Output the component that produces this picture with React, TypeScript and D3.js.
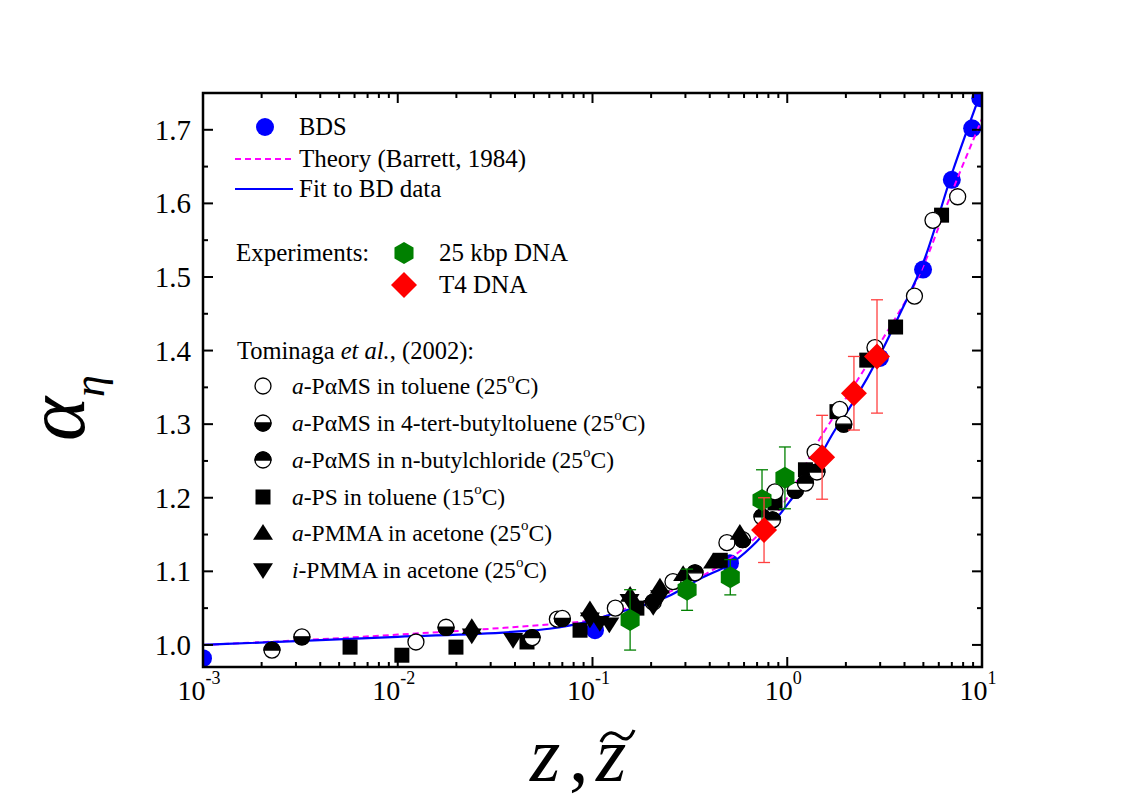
import React from 'react';
import * as d3 from 'd3';

const W = 1141, H = 800;
const L = 203, R = 982, T = 93, B = 667;

const xTickExps = [-3, -2, -1, 0, 1];
const yTicks = [1.0, 1.1, 1.2, 1.3, 1.4, 1.5, 1.6, 1.7];

// BDS (blue filled circles)
const bdsX = [0.001, 0.103, 0.508, 2.99, 4.98, 7.0, 8.9, 9.8];
const bdsY = [0.982, 1.02, 1.111, 1.39, 1.51, 1.632, 1.702, 1.743];

// Theory (Barrett, 1984)
const theoryX = [0.001, 0.003, 0.01, 0.03, 0.06, 0.1, 0.15, 0.2, 0.3, 0.5, 0.7, 1.0, 1.5, 2.0, 3.0, 5.0, 7.0, 10.0];
const theoryY = [1.0, 1.006, 1.014, 1.022, 1.028, 1.034, 1.05, 1.062, 1.082, 1.116, 1.148, 1.2, 1.284, 1.335, 1.41, 1.515, 1.615, 1.715];

// Fit to BD data
const fitX = [0.001, 0.01, 0.04, 0.06, 0.089, 0.123, 0.24, 0.357, 0.53, 0.7, 1.03, 1.36, 1.72, 2.18, 3.0, 3.79, 5.0, 7.1, 10.0];
const fitY = [1.0, 1.011, 1.018, 1.022, 1.03, 1.041, 1.065, 1.09, 1.113, 1.141, 1.195, 1.24, 1.288, 1.33, 1.395, 1.45, 1.52, 1.645, 1.755];

// 25 kbp DNA (green hexagons)
const dna25X = [0.156, 0.306, 0.51, 0.742, 0.973];
const dna25Y = [1.034, 1.075, 1.092, 1.197, 1.227];
const dna25Err = [0.041, 0.028, 0.024, 0.041, 0.042];

// T4 DNA (red diamonds)
const t4X = [0.76, 1.51, 2.2, 2.89];
const t4Y = [1.156, 1.255, 1.342, 1.392];
const t4Err = [0.044, 0.057, 0.05, 0.077];

// Tominaga et al. (2002)
const pamsTolX = [0.0124, 0.066, 0.131, 0.259, 0.49, 0.865, 1.39, 1.86, 2.82, 4.5, 5.6, 7.5];
const pamsTolY = [1.004, 1.035, 1.05, 1.086, 1.139, 1.208, 1.262, 1.32, 1.404, 1.474, 1.577, 1.609];

const pamsTbtX = [0.00322, 0.0177, 0.07, 0.59, 1.1, 1.95];
const pamsTbtY = [1.011, 1.024, 1.036, 1.143, 1.21, 1.3];

const pamsNbcX = [0.00226, 0.049, 0.205, 0.336, 0.742, 0.84, 1.24, 1.42];
const pamsNbcY = [0.993, 1.01, 1.058, 1.098, 1.174, 1.17, 1.22, 1.235];

const psX = [0.00569, 0.0105, 0.0199, 0.0461, 0.0863, 0.169, 0.453, 0.865, 1.24, 1.8, 2.56, 3.6, 6.2];
const psY = [0.997, 0.986, 0.997, 1.004, 1.02, 1.05, 1.115, 1.193, 1.238, 1.317, 1.387, 1.432, 1.584];

const apmmaX = [0.024, 0.097, 0.156, 0.222, 0.292, 0.416, 0.571];
const apmmaY = [1.024, 1.048, 1.068, 1.079, 1.096, 1.113, 1.152];

const ipmmaX = [0.024, 0.0391, 0.097, 0.109, 0.122, 0.155, 0.205, 0.222];
const ipmmaY = [1.013, 1.007, 1.035, 1.03, 1.028, 1.06, 1.052, 1.065];

const x = d3.scaleLog().domain([0.001, 10]).range([L, R]);
const y = d3.scaleLinear().domain([0.97, 1.75]).range([B, T]);

const FONT = '"Liberation Serif", "Times New Roman", serif';

const zip = (xs: number[], ys: number[]) => xs.map((v, i) => [v, ys[i]] as [number, number]);

const tri = (s: number, up: boolean) => {
  const h = s * 0.9;
  return up
    ? `M0,${-h} L${s},${h * 0.75} L${-s},${h * 0.75} Z`
    : `M0,${h} L${s},${-h * 0.75} L${-s},${-h * 0.75} Z`;
};
const hexPath = (r: number) => {
  const pts = d3.range(6).map(k => {
    const a = (-90 + 60 * k) * Math.PI / 180;
    return `${r * Math.cos(a)},${r * Math.sin(a)}`;
  });
  return 'M' + pts.join('L') + 'Z';
};
const diamondPath = (r: number) => `M0,${-r} L${r},0 L0,${r} L${-r},0 Z`;

type Kind = 'open' | 'tbt' | 'nbc' | 'square' | 'up' | 'down';

function Marker({ kind, cx, cy }: { kind: Kind; cx: number; cy: number }) {
  const r = 8;
  const t = `translate(${cx},${cy})`;
  if (kind === 'open') return <circle cx={cx} cy={cy} r={r} fill="#fff" stroke="#000" strokeWidth={1.3} />;
  if (kind === 'tbt' || kind === 'nbc') {
    const sweep = kind === 'tbt' ? 0 : 1;
    return (
      <g transform={t}>
        <circle r={r} fill="#fff" stroke="#000" strokeWidth={1.3} />
        <path d={`M${-r},0 A${r},${r} 0 0 ${sweep} ${r},0 Z`} fill="#000" stroke="#000" strokeWidth={1.3} />
      </g>
    );
  }
  if (kind === 'square') return <rect x={cx - 7.5} y={cy - 7.5} width={15} height={15} fill="#000" />;
  if (kind === 'up') return <path transform={t} d={tri(10, true)} fill="#000" />;
  return <path transform={t} d={tri(10, false)} fill="#000" />;
}

function Sup({ base, sup, x0, y0 }: { base: string; sup: string; x0: number; y0: number }) {
  return (
    <text x={x0} y={y0} fontFamily={FONT} fontSize={28} textAnchor="middle">
      {base}
      <tspan fontSize={18} dy={-16}>{sup}</tspan>
    </text>
  );
}

function LegendText({ x0, y0, pre, mid, tail }: { x0: number; y0: number; pre: string; mid: string; tail: string }) {
  return (
    <text x={x0} y={y0} fontFamily={FONT} fontSize={23.5}>
      <tspan fontStyle="italic">{pre}</tspan>
      {mid}
      <tspan fontSize={15} dy={-11}>o</tspan>
      <tspan dy={11}>{tail}</tspan>
    </text>
  );
}

export default function App() {
  const fitLine = d3.line<[number, number]>().x(d => x(d[0])).y(d => y(d[1])).curve(d3.curveMonotoneX);

  const majorX = xTickExps.map(e => Math.pow(10, e));
  const minorX: number[] = [];
  for (let e = -3; e < 1; e++) for (let m = 2; m <= 9; m++) minorX.push(m * Math.pow(10, e));
  const minorY = yTicks.map(v => Math.round((v + 0.05) * 100) / 100).filter(v => v < 1.75);

  const series: { kind: Kind; xs: number[]; ys: number[] }[] = [
    { kind: 'square', xs: psX, ys: psY },
    { kind: 'open', xs: pamsTolX, ys: pamsTolY },
    { kind: 'tbt', xs: pamsTbtX, ys: pamsTbtY },
    { kind: 'nbc', xs: pamsNbcX, ys: pamsNbcY },
    { kind: 'up', xs: apmmaX, ys: apmmaY },
    { kind: 'down', xs: ipmmaX, ys: ipmmaY },
  ];

  const legendRows: { kind: Kind; pre: string; mid: string; tail: string }[] = [
    { kind: 'open', pre: 'a', mid: '-PαMS in toluene (25', tail: 'C)' },
    { kind: 'tbt', pre: 'a', mid: '-PαMS in 4-tert-butyltoluene (25', tail: 'C)' },
    { kind: 'nbc', pre: 'a', mid: '-PαMS in n-butylchloride (25', tail: 'C)' },
    { kind: 'square', pre: 'a', mid: '-PS in toluene (15', tail: 'C)' },
    { kind: 'up', pre: 'a', mid: '-PMMA in acetone (25', tail: 'C)' },
    { kind: 'down', pre: 'i', mid: '-PMMA in acetone (25', tail: 'C)' },
  ];
  const rowY = [386, 423, 460, 497, 533, 570];

  return (
    <svg width={W} height={H} style={{ position: 'absolute', left: 0, top: 0, background: '#fff' }}>
      <defs>
        <clipPath id="plotclip">
          <rect x={L} y={T} width={R - L} height={B - T} />
        </clipPath>
      </defs>
      <rect width={W} height={H} fill="#fff" />

      <g clipPath="url(#plotclip)">
        {zip(bdsX, bdsY).map((d, i) => (
          <circle key={'b' + i} cx={x(d[0])} cy={y(d[1])} r={9} fill="#0000ff" />
        ))}
        <path d={fitLine(zip(theoryX, theoryY)) || ''} fill="none" stroke="#ff00ff" strokeWidth={2} strokeDasharray="6,4" />
        <path d={fitLine(zip(fitX, fitY)) || ''} fill="none" stroke="#0000ff" strokeWidth={2.2} />
        {series.map((s, si) =>
          zip(s.xs, s.ys).map((d, i) => <Marker key={si + '-' + i} kind={s.kind} cx={x(d[0])} cy={y(d[1])} />)
        )}
        {zip(dna25X, dna25Y).map((d, i) => {
          const cx = x(d[0]);
          const e = dna25Err[i];
          return (
            <g key={'g' + i}>
              <line x1={cx} x2={cx} y1={y(d[1] - e)} y2={y(d[1] + e)} stroke="#008000" strokeWidth={1.3} />
              <line x1={cx - 6} x2={cx + 6} y1={y(d[1] - e)} y2={y(d[1] - e)} stroke="#008000" strokeWidth={1.3} />
              <line x1={cx - 6} x2={cx + 6} y1={y(d[1] + e)} y2={y(d[1] + e)} stroke="#008000" strokeWidth={1.3} />
              <path transform={`translate(${cx},${y(d[1])})`} d={hexPath(11)} fill="#008000" />
            </g>
          );
        })}
        {zip(t4X, t4Y).map((d, i) => {
          const cx = x(d[0]);
          const e = t4Err[i];
          return (
            <g key={'r' + i}>
              <line x1={cx} x2={cx} y1={y(d[1] - e)} y2={y(d[1] + e)} stroke="#ff4040" strokeWidth={1.3} />
              <line x1={cx - 6} x2={cx + 6} y1={y(d[1] - e)} y2={y(d[1] - e)} stroke="#ff4040" strokeWidth={1.3} />
              <line x1={cx - 6} x2={cx + 6} y1={y(d[1] + e)} y2={y(d[1] + e)} stroke="#ff4040" strokeWidth={1.3} />
              <path transform={`translate(${cx},${y(d[1])})`} d={diamondPath(13)} fill="#ff0000" />
            </g>
          );
        })}
      </g>

      {/* frame */}
      <rect x={L} y={T} width={R - L} height={B - T} fill="none" stroke="#000" strokeWidth={2.5} />

      {/* x ticks */}
      {majorX.map((v, i) => (
        <g key={'mx' + i}>
          <line x1={x(v)} x2={x(v)} y1={B} y2={B - 10} stroke="#000" strokeWidth={2} />
          <line x1={x(v)} x2={x(v)} y1={T} y2={T + 10} stroke="#000" strokeWidth={2} />
          <Sup base="10" sup={String(xTickExps[i])} x0={x(v) - 4} y0={700} />
        </g>
      ))}
      {minorX.map((v, i) => (
        <g key={'nx' + i}>
          <line x1={x(v)} x2={x(v)} y1={B} y2={B - 5} stroke="#000" strokeWidth={2} />
          <line x1={x(v)} x2={x(v)} y1={T} y2={T + 5} stroke="#000" strokeWidth={2} />
        </g>
      ))}

      {/* y ticks */}
      {yTicks.map((v, i) => (
        <g key={'my' + i}>
          <line x1={L} x2={L + 10} y1={y(v)} y2={y(v)} stroke="#000" strokeWidth={2} />
          <line x1={R} x2={R - 10} y1={y(v)} y2={y(v)} stroke="#000" strokeWidth={2} />
          <text x={191} y={y(v) + 10} fontFamily={FONT} fontSize={29} textAnchor="end">{v.toFixed(1)}</text>
        </g>
      ))}
      {minorY.map((v, i) => (
        <g key={'ny' + i}>
          <line x1={L} x2={L + 5} y1={y(v)} y2={y(v)} stroke="#000" strokeWidth={2} />
          <line x1={R} x2={R - 5} y1={y(v)} y2={y(v)} stroke="#000" strokeWidth={2} />
        </g>
      ))}

      {/* axis titles */}
      <g transform="translate(84,408) rotate(-90)">
        <text fontFamily={FONT} fontStyle="italic" fontSize={84} textAnchor="middle">
          α<tspan fontSize={44} dy={20}>η</tspan>
        </text>
      </g>
      <text x={530} y={781} fontFamily={FONT} fontStyle="italic" fontSize={78}>z</text>
      <text x={569} y={781} fontFamily={FONT} fontSize={78}>,</text>
      <text x={596} y={781} fontFamily={FONT} fontStyle="italic" fontSize={78}>z</text>
      <path d="M601,742 C606,731 613,731 619,736 C625,741 630,740 634,730" fill="none" stroke="#000" strokeWidth={3.2} />

      {/* legend */}
      <circle cx={265} cy={127} r={9} fill="#0000ff" />
      <text x={299} y={135} fontFamily={FONT} fontSize={24.5}>BDS</text>
      <line x1={235} x2={293} y1={159} y2={159} stroke="#ff00ff" strokeWidth={2} strokeDasharray="6,4" />
      <text x={299} y={167} fontFamily={FONT} fontSize={25}>Theory (Barrett, 1984)</text>
      <line x1={235} x2={293} y1={189} y2={189} stroke="#0000ff" strokeWidth={2.2} />
      <text x={299} y={197} fontFamily={FONT} fontSize={25}>Fit to BD data</text>

      <text x={236} y={261} fontFamily={FONT} fontSize={25}>Experiments:</text>
      <path transform="translate(404,253)" d={hexPath(11)} fill="#008000" />
      <text x={439} y={261} fontFamily={FONT} fontSize={25}>25 kbp DNA</text>
      <path transform="translate(404,285)" d={diamondPath(13)} fill="#ff0000" />
      <text x={439} y={293} fontFamily={FONT} fontSize={25}>T4 DNA</text>

      <text x={237} y={359} fontFamily={FONT} fontSize={24.5}>
        Tominaga <tspan fontStyle="italic">et al.</tspan>, (2002):
      </text>
      {legendRows.map((r, i) => (
        <g key={'lr' + i}>
          <Marker kind={r.kind} cx={263} cy={rowY[i]} />
          <LegendText x0={292} y0={rowY[i] + 8} pre={r.pre} mid={r.mid} tail={r.tail} />
        </g>
      ))}
    </svg>
  );
}
